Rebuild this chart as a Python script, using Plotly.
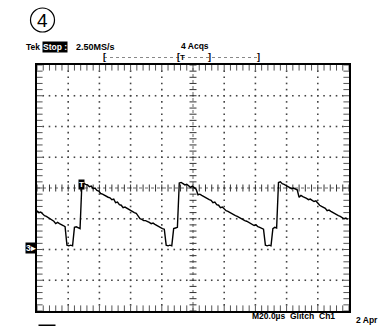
import numpy as np
import plotly.graph_objects as go

# ---------------- data ----------------
# Channel 3 record: 20 us/div, 500 mV/div, ground marker at 0 V
sample_interval_us = 1.2
ch3_volts = [
    0.63, 0.60, 0.61, 0.57, 0.55, 0.54, 0.52, 0.49, 0.47, 0.46,
    0.42, 0.44, 0.42, 0.41, 0.39, 0.37, 0.07, 0.06, 0.07, 0.06,
    0.36, 0.37, 0.36, 0.34, 1.09, 1.07, 1.06, 1.05, 1.02, 1.03,
    0.99, 1.00, 0.96, 0.95, 0.91, 0.90, 0.88, 0.86, 0.85, 0.84,
    0.81, 0.82, 0.76, 0.77, 0.73, 0.72, 0.68, 0.69, 0.67, 0.65,
    0.63, 0.62, 0.60, 0.59, 0.55, 0.50, 0.49, 0.47, 0.47, 0.46,
    0.44, 0.42, 0.43, 0.41, 0.39, 0.37, 0.36, 0.34, 0.33, 0.07,
    0.06, 0.07, 0.06, 0.34, 0.35, 0.36, 1.08, 1.09, 1.07, 1.05,
    1.06, 1.04, 1.01, 1.03, 1.01, 0.98, 0.89, 0.90, 0.88, 0.86,
    0.85, 0.83, 0.81, 0.80, 0.76, 0.77, 0.73, 0.72, 0.68, 0.69,
    0.65, 0.63, 0.62, 0.60, 0.59, 0.57, 0.55, 0.54, 0.52, 0.50,
    0.49, 0.47, 0.46, 0.44, 0.42, 0.41, 0.39, 0.40, 0.37, 0.36,
    0.34, 0.33, 0.07, 0.06, 0.07, 0.06, 0.34, 0.36, 0.35, 1.09,
    1.10, 1.07, 1.06, 1.04, 1.03, 1.01, 0.99, 1.00, 0.98, 0.97,
    0.85, 0.88, 0.86, 0.85, 0.83, 0.81, 0.82, 0.80, 0.78, 0.79,
    0.75, 0.72, 0.70, 0.68, 0.67, 0.63, 0.64, 0.62, 0.60, 0.59,
    0.57, 0.55, 0.54, 0.52, 0.50, 0.51, 0.49,
]
t_us = np.arange(len(ch3_volts)) * sample_interval_us

time_per_div_us = 20
volts_per_div = 0.5
x_range = [0, 200]
y_range = [-1.0, 3.0]
center_v = 1.0
trigger_t_us = 28.4
trigger_v = 1.06

header_left = ["Tek", "Stop :", "2.50MS/s"]
header_acq = "4 Acqs"
footer = ["M20.0µs", "Glitch", "Ch1", "2 Apr"]
channel_label = ["Ch3", "500mV"]

# ---------------- geometry ----------------
W, H = 379, 326
ML, MR, MT, MB = 37, 30, 65, 15
PL, PR, PT, PB = ML, W - MR, MT, H - MB


def px(x):
    return (x - PL) / (PR - PL)


def py(y):
    return (PB - y) / (PB - PT)


fig = go.Figure()

minor_x = np.arange(x_range[0], x_range[1] + 0.001, time_per_div_us / 5)
minor_y = np.round(np.arange(y_range[0], y_range[1] + 0.001, volts_per_div / 5), 3)
major_x = [x for x in np.arange(20, 200, 20) if x != 100]
major_y = [y for y in np.arange(-0.5, 3.0, 0.5) if abs(y - center_v) > 1e-6]

# dotted graticule
gx, gy = [], []
for yv in major_y:
    for xv in minor_x[1:-1]:
        gx.append(xv); gy.append(yv)
for xv in major_x:
    for yv in minor_y[1:-1]:
        gx.append(xv); gy.append(yv)
fig.add_trace(go.Scatter(x=gx, y=gy, mode="markers", hoverinfo="skip",
                         marker=dict(symbol="square", size=1.6, color="#444", line=dict(width=0))))

# center crosshair (dotted line + ticks)
fig.add_shape(type="line", x0=100, x1=100, y0=y_range[0], y1=y_range[1], xref="x", yref="y",
              line=dict(color="#666", width=1, dash="dot"), layer="below")
fig.add_shape(type="line", x0=x_range[0], x1=x_range[1], y0=center_v, y1=center_v, xref="x", yref="y",
              line=dict(color="#666", width=1, dash="dot"), layer="below")
fig.add_trace(go.Scatter(x=[100] * len(minor_y), y=minor_y, mode="markers", hoverinfo="skip",
                         marker=dict(symbol="line-ew", size=5, line=dict(width=1, color="#333"))))
fig.add_trace(go.Scatter(x=minor_x, y=[center_v] * len(minor_x), mode="markers", hoverinfo="skip",
                         marker=dict(symbol="line-ns", size=5, line=dict(width=1, color="#333"))))

# edge ticks (clipped to the inside half)
ex = list(minor_x) * 2
ey = [y_range[0]] * len(minor_x) + [y_range[1]] * len(minor_x)
fig.add_trace(go.Scatter(x=ex, y=ey, mode="markers", hoverinfo="skip", cliponaxis=True,
                         marker=dict(symbol="line-ns", size=8, line=dict(width=1, color="#555"))))
lx = [x_range[0]] * len(minor_y) + [x_range[1]] * len(minor_y)
ly = list(minor_y) * 2
fig.add_trace(go.Scatter(x=lx, y=ly, mode="markers", hoverinfo="skip", cliponaxis=True,
                         marker=dict(symbol="line-ew", size=8, line=dict(width=1, color="#555"))))

# waveform
fig.add_trace(go.Scatter(x=t_us, y=ch3_volts, mode="lines", hoverinfo="skip",
                         line=dict(color="black", width=1.4)))

font = "Liberation Sans, Arial, sans-serif"
ann = []


def text(x, y, s, size=8, color="black", bg=None, anchor="left", bold=True, xref="paper", yref="paper"):
    d = dict(x=x, y=y, xref=xref, yref=yref, text=("<b>%s</b>" % s) if bold else s,
             showarrow=False, xanchor=anchor, yanchor="middle",
             font=dict(family=font, size=size, color=color))
    if bg:
        d.update(bgcolor=bg, borderpad=0)
    ann.append(d)


# circled 4
fig.add_shape(type="circle", xref="paper", yref="paper", x0=px(30.5), x1=px(54.5), y0=py(32), y1=py(8),
              line=dict(color="black", width=1.2))
text(px(42.5), py(20), "4", size=19, anchor="center", bold=False)

# header
text(px(24), py(47), header_left[0], size=8.5)
text(px(42), py(47), header_left[1], size=8.5, color="white", bg="black")
text(px(74), py(47), header_left[2], size=9)
text(px(195), py(46), header_acq, size=8.5, anchor="center")

# record bar
fig.add_shape(type="line", xref="paper", yref="paper", x0=px(104), x1=px(258), y0=py(57.5), y1=py(57.5),
              line=dict(color="#888", width=1, dash="dot"))
text(px(104.5), py(57.5), "[", size=9, anchor="center")
text(px(178), py(57.5), "[", size=9, anchor="center")
text(px(182), py(57.5), "T", size=8, anchor="center")
text(px(209), py(57.5), "]", size=9, anchor="center")
text(px(258.5), py(57.5), "]", size=9, anchor="center")

# trigger marker on trace
text(trigger_t_us, trigger_v, "T", size=8, color="white", bg="black", anchor="center", xref="x", yref="y")

# ground marker
text(px(25), py(248), "3▸", size=8.5, color="white", bg="black", anchor="left")

# footer
text(px(250), py(316), footer[0], size=8.5)
text(px(288), py(316), footer[1], size=8.5)
text(px(317), py(316), footer[2], size=8.5)
text(px(354), py(320), footer[3], size=8.5)
text(px(38), py(330), channel_label[0], size=8.5, color="white", bg="black")
text(px(68), py(330), channel_label[1], size=8.5, color="#333")

fig.update_layout(
    width=W, height=H, autosize=False,
    margin=dict(l=ML, r=MR, t=MT, b=MB, pad=0),
    paper_bgcolor="white", plot_bgcolor="white",
    showlegend=False, annotations=ann,
    xaxis=dict(range=x_range, showgrid=False, zeroline=False, showticklabels=False, ticks="",
               showline=True, mirror=True, linecolor="black", linewidth=1.5, fixedrange=True),
    yaxis=dict(range=y_range, showgrid=False, zeroline=False, showticklabels=False, ticks="",
               showline=True, mirror=True, linecolor="black", linewidth=1.5, fixedrange=True),
)

fig.write_html("out.html", config={"displayModeBar": False},
               post_script="document.body.style.margin='0px';document.body.style.overflow='hidden';")
